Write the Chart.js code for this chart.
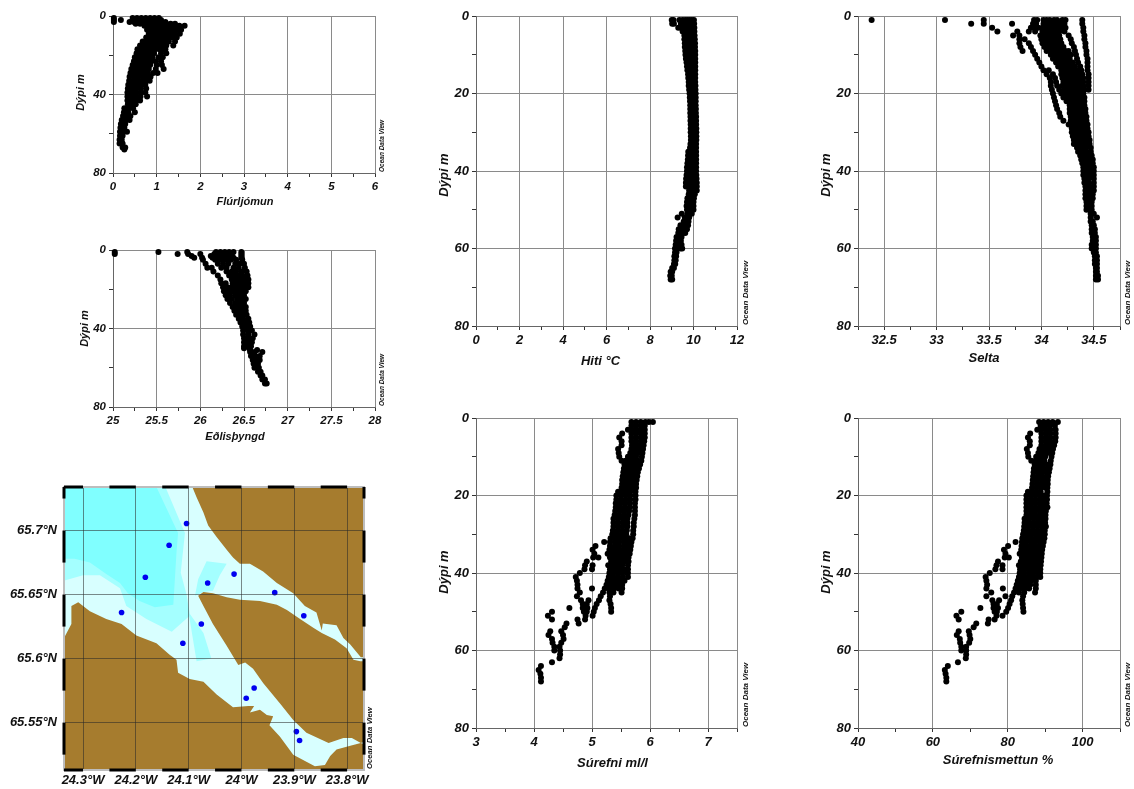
<!DOCTYPE html>
<html>
<head>
<meta charset="utf-8">
<title>Ocean Data View profiles</title>
<script src="https://cdn.jsdelivr.net/npm/chart.js@4"></script>
<style>
  html, body { margin: 0; padding: 0; background: #fff; overflow: hidden; }
  canvas { position: absolute; filter: blur(0.45px); }
</style>
</head>
<body>
<script>
// rows are [depth, value, value, ...]
const flurRows = [
  [1,0.02,0.45,0.55,0.65,0.75,0.85,0.95,1.05],[2,0.02,0.18,0.5,0.6,0.7,0.8,0.9,1.0,1.1],
  [3,0.02,0.38,0.48,0.58,0.7,0.8,0.9,1.0,1.1,1.2],[4,0.52,0.62,0.72,0.82,0.92,1.02,1.12,1.22,1.32,1.42],
  [5,0.72,0.82,0.92,1.02,1.12,1.22,1.32,1.42,1.52,1.64],[7,0.78,0.88,0.98,1.08,1.18,1.28,1.38,1.48,1.56],
  [9,0.82,0.92,1.02,1.12,1.22,1.32,1.42,1.53],[11,0.76,0.86,0.96,1.06,1.16,1.26,1.36,1.46],
  [13,0.68,0.78,0.88,0.98,1.08,1.18,1.28,1.42],[15,0.62,0.72,0.82,0.92,1.02,1.12,1.22,1.38],
  [17,0.56,0.66,0.76,0.86,0.96,1.06,1.16,1.2],[19,0.54,0.64,0.74,0.84,0.94,1.1,1.22],
  [21,0.5,0.6,0.7,0.8,0.9,1.04,1.14],[23,0.48,0.58,0.68,0.78,0.88,0.98,1.1],
  [25,0.45,0.55,0.65,0.75,0.85,1.0,1.12],[27,0.42,0.52,0.62,0.72,0.82,0.98,1.16],
  [29,0.4,0.5,0.6,0.7,0.8,0.92,1.02],[31,0.38,0.48,0.58,0.68,0.78,0.86],
  [33,0.37,0.47,0.57,0.67,0.77,0.84],[35,0.35,0.45,0.55,0.65,0.74],
  [37,0.34,0.44,0.54,0.64,0.76],[39,0.33,0.43,0.53,0.63,0.74],
  [41,0.33,0.43,0.53,0.63,0.78],[43,0.33,0.43,0.53,0.62],[45,0.34,0.44,0.52],
  [47,0.26,0.36,0.46],[49,0.25,0.35,0.5],[51,0.23,0.33,0.4],[53,0.2,0.3,0.38],
  [55,0.18,0.28],[57,0.17,0.26],[59,0.16,0.24,0.32],[61,0.16,0.22],[63,0.15,0.2],
  [65,0.15,0.22],[67,0.22,0.28],[68,0.26]
];
const densityRows = [
  [1,25.02,25.52,25.85,26.18,26.23,26.28,26.33,26.38,26.47],[2,25.02,25.74,25.86,26.0,26.16,26.21,26.26,26.31,26.36,26.47],
  [3,25.9,26.12,26.18,26.24,26.3,26.36,26.47],[4,25.93,26.02,26.14,26.2,26.26,26.32,26.38,26.47],
  [5,26.03,26.17,26.23,26.29,26.35,26.41,26.48],[7,26.06,26.2,26.26,26.32,26.4,26.45,26.5],
  [9,26.08,26.13,26.24,26.3,26.38,26.44,26.51],[11,26.15,26.3,26.36,26.41,26.47,26.53],
  [13,26.2,26.33,26.38,26.43,26.48,26.54],[15,26.23,26.36,26.41,26.46,26.51,26.55],
  [17,26.24,26.29,26.37,26.42,26.47,26.52,26.55],[19,26.26,26.31,26.36,26.41,26.46,26.51,26.55],
  [21,26.27,26.32,26.37,26.42,26.47,26.52],[23,26.29,26.34,26.4,26.45,26.5],
  [25,26.31,26.36,26.42,26.47,26.52],[27,26.34,26.4,26.45,26.5],[29,26.37,26.42,26.47,26.52],
  [31,26.39,26.44,26.49,26.52],[33,26.41,26.46,26.5,26.53],[35,26.44,26.49,26.55],
  [37,26.46,26.51,26.56],[39,26.48,26.52,26.57],[41,26.49,26.54,26.59],[43,26.49,26.55,26.62],
  [45,26.5,26.55,26.6],[47,26.5,26.55,26.59],[49,26.5,26.54,26.58],[50,26.5,26.56],
  [51,26.57,26.65],[52,26.57,26.62,26.71],[54,26.58,26.63,26.68],[56,26.6,26.65,26.68],
  [58,26.61,26.66],[60,26.62,26.67],[62,26.66,26.69],[64,26.69,26.71],[66,26.71,26.74],[68,26.74,26.76]
];
const hitiRows = [
  [1,9.0,9.08,9.35,9.5,9.62,9.72,9.82,9.92,10.02],[2,9.02,9.1,9.42,9.55,9.65,9.75,9.85,9.95,10.03],
  [3,9.3,9.42,9.52,9.62,9.74,9.86,9.96,10.04],[4,9.5,9.6,9.7,9.8,9.92,10.04],
  [5,9.58,9.68,9.78,9.88,9.98,10.05],[6,9.58,9.68,9.8,9.9,10.0,10.06],[7,9.6,9.7,9.8,9.9,10.0,10.07],
  [8,9.6,9.7,9.82,9.92,10.02,10.07],[9,9.62,9.72,9.82,9.92,10.02,10.08],[10,9.63,9.73,9.84,9.94,10.08],
  [11,9.65,9.75,9.85,9.95,10.08],[12,9.68,9.78,9.88,9.98,10.08],[13,9.7,9.8,9.9,10.0,10.08],
  [14,9.72,9.82,9.92,10.0,10.08],[15,9.75,9.85,9.95,10.08],[16,9.76,9.86,9.96,10.08],[17,9.78,9.88,9.98,10.08],
  [18,9.78,9.88,9.98,10.09],[19,9.8,9.9,10.0,10.09],[20,9.82,9.92,10.02,10.1],[21,9.83,9.93,10.03,10.1],
  [22,9.84,9.94,10.04,10.1],[23,9.85,9.95,10.05,10.1],[24,9.85,9.95,10.05,10.11],[25,9.85,9.95,10.05,10.11],
  [26,9.86,9.96,10.06,10.12],[27,9.86,9.96,10.06,10.12],[28,9.87,9.97,10.07,10.12],[29,9.87,9.97,10.07,10.13],
  [30,9.87,9.97,10.07,10.13],[31,9.88,9.98,10.08,10.13],[32,9.88,9.98,10.08,10.13],[33,9.86,9.96,10.06,10.12],
  [34,9.84,9.94,10.04,10.12],[35,9.76,9.86,9.96,10.06,10.12],[36,9.75,9.85,9.95,10.05,10.12],[37,9.74,9.84,9.94,10.04,10.12],
  [38,9.72,9.82,9.92,10.02,10.12],[39,9.7,9.8,9.9,10.0,10.12],[40,9.7,9.8,9.9,10.0,10.12],[41,9.68,9.78,9.88,9.98,10.13],
  [42,9.66,9.76,9.86,9.96,10.06,10.14],[43,9.65,9.75,9.85,9.95,10.05,10.15],[44,9.65,9.75,9.85,9.95,10.05,10.15],
  [45,9.8,9.9,10.0,10.15],[46,9.78,9.88,9.98,10.06],[47,9.72,9.82,9.92,10.02],[48,9.7,9.8,9.9,10.0],
  [49,9.68,9.78,9.88,10.0],[50,9.7,9.8,9.9,10.0],[51,9.46,9.72,9.82,9.92],[52,9.27,9.6,9.72,9.8],
  [53,9.55,9.68,9.77],[54,9.4,9.52,9.65,9.75],[55,9.32,9.45,9.58,9.7],[56,9.3,9.42,9.52,9.62],
  [57,9.22,9.33,9.45],[58,9.2,9.3,9.42],[59,9.18,9.28,9.4,9.45],[60,9.15,9.25,9.4,9.48],
  [61,9.15,9.22],[62,9.12,9.2],[63,9.12,9.18],[64,9.1,9.16],[65,9.02,9.1],[66,8.95,9.02],[67,8.93,9.0],[68,8.95,9.02]
];
const seltaRows = [
  [1,32.38,33.08,33.45,33.93,33.96,34.02,34.05,34.08,34.12,34.15,34.2,34.23,34.39],
  [2,33.33,33.45,33.72,33.92,33.95,34.02,34.05,34.08,34.11,34.14,34.17,34.2,34.22,34.39],
  [3,33.53,33.9,33.93,33.97,34.01,34.04,34.07,34.1,34.14,34.17,34.21,34.23,34.4],
  [4,33.58,33.77,33.88,33.94,34.01,34.04,34.07,34.1,34.14,34.17,34.22,34.4],
  [5,33.73,33.79,33.99,34.02,34.05,34.08,34.11,34.14,34.17,34.26,34.41],
  [6,33.79,33.84,34.0,34.03,34.06,34.09,34.12,34.15,34.18,34.28,34.41],
  [7,33.79,33.88,34.01,34.04,34.07,34.1,34.13,34.16,34.19,34.29,34.42],
  [8,33.8,33.9,34.03,34.06,34.09,34.12,34.15,34.18,34.21,34.31,34.42],
  [9,33.82,33.92,34.05,34.08,34.11,34.14,34.17,34.2,34.23,34.26,34.32,34.43],
  [10,33.94,34.09,34.13,34.17,34.21,34.25,34.28,34.33,34.43],[11,33.96,34.11,34.15,34.19,34.23,34.27,34.34,34.44],
  [12,33.98,34.14,34.18,34.22,34.26,34.3,34.35,34.44],[13,34.0,34.16,34.2,34.24,34.28,34.32,34.37,34.44],
  [14,34.02,34.07,34.19,34.23,34.27,34.31,34.35,34.38,34.44],[15,34.05,34.11,34.19,34.23,34.27,34.31,34.35,34.39,34.45],
  [16,34.08,34.13,34.2,34.24,34.28,34.32,34.36,34.4,34.45],[17,34.09,34.14,34.21,34.25,34.29,34.33,34.37,34.4,34.45],
  [18,34.09,34.15,34.2,34.24,34.28,34.32,34.36,34.4,34.45],[19,34.1,34.17,34.22,34.26,34.3,34.34,34.38,34.41,34.45],
  [20,34.11,34.19,34.24,34.28,34.32,34.36,34.4],[21,34.12,34.21,34.25,34.29,34.33,34.37,34.41],
  [22,34.13,34.24,34.27,34.3,34.34,34.38,34.41],[23,34.14,34.27,34.31,34.35,34.38,34.41],
  [24,34.15,34.27,34.31,34.35,34.39,34.42],[25,34.17,34.27,34.31,34.35,34.39,34.42],
  [26,34.18,34.28,34.32,34.36,34.4,34.43],[27,34.21,34.28,34.32,34.36,34.4,34.43],
  [28,34.26,34.3,34.33,34.37,34.41,34.44],[29,34.29,34.33,34.37,34.41,34.44],
  [30,34.29,34.33,34.37,34.41,34.45],[31,34.3,34.34,34.38,34.42,34.45],[32,34.31,34.35,34.39,34.43,34.46],
  [33,34.31,34.35,34.39,34.43,34.46],[34,34.34,34.38,34.42,34.47],[35,34.35,34.39,34.43,34.47],
  [36,34.37,34.41,34.45,34.48],[37,34.38,34.42,34.46,34.49],[38,34.39,34.43,34.47,34.49],
  [39,34.4,34.44,34.48,34.5],[40,34.4,34.44,34.48,34.5],[41,34.4,34.44,34.48,34.5],[42,34.41,34.45,34.5],
  [43,34.41,34.45,34.5],[44,34.42,34.46,34.5],[45,34.42,34.46,34.5],[46,34.42,34.46,34.49],
  [47,34.42,34.46,34.49],[48,34.43,34.46,34.48],[49,34.43,34.46,34.48],[50,34.43,34.46,34.48],
  [51,34.47,34.5],[52,34.47,34.53],[53,34.47,34.49],[54,34.48,34.5],[55,34.48,34.51],[56,34.48,34.51],
  [57,34.49,34.52],[58,34.49,34.52],[59,34.48,34.52],[60,34.48,34.52],[61,34.5,34.52],[62,34.51,34.53],
  [63,34.51,34.53],[64,34.51,34.53],[65,34.52,34.53],[66,34.52,34.53],[67,34.52,34.54],[68,34.52,34.54]
];
const surefniRows = [
  [1,5.68,5.76,5.84,5.92,5.98,6.05],[2,5.68,5.76,5.84,5.91],[3,5.62,5.69,5.77,5.85,5.91],[4,5.52,5.68,5.76,5.84,5.91],
  [5,5.47,5.68,5.76,5.84,5.91],[6,5.51,5.68,5.76,5.84,5.9],[7,5.51,5.69,5.76,5.83,5.89],[8,5.45,5.68,5.75,5.82,5.88],
  [9,5.46,5.66,5.73,5.8,5.87],[10,5.47,5.62,5.69,5.76,5.86],[11,5.51,5.58,5.65,5.72,5.79,5.85],[12,5.56,5.63,5.7,5.77,5.83],
  [13,5.55,5.62,5.69,5.76,5.81],[14,5.54,5.61,5.68,5.75,5.79],[15,5.53,5.6,5.67,5.73,5.78],[16,5.52,5.59,5.66,5.72,5.77],
  [17,5.52,5.59,5.66,5.72,5.76],[18,5.51,5.58,5.65,5.71,5.76],[19,5.45,5.52,5.59,5.66,5.75],[20,5.42,5.5,5.58,5.66,5.75],
  [21,5.42,5.5,5.58,5.66,5.75],[22,5.41,5.49,5.57,5.65,5.74],[23,5.41,5.49,5.57,5.65,5.74],[24,5.4,5.48,5.56,5.64,5.74],
  [25,5.39,5.47,5.55,5.63,5.74],[26,5.37,5.45,5.53,5.61,5.73],[27,5.37,5.45,5.53,5.61,5.72],[28,5.37,5.45,5.53,5.61,5.72],
  [29,5.36,5.44,5.52,5.6,5.71],[30,5.35,5.43,5.51,5.59,5.71],[31,5.32,5.4,5.48,5.56,5.64,5.7],[32,5.21,5.31,5.39,5.47,5.55,5.63,5.68],
  [33,5.06,5.31,5.39,5.47,5.55,5.62,5.67],[34,5.01,5.3,5.38,5.46,5.54,5.62,5.66],[35,5.04,5.27,5.33,5.41,5.49,5.57,5.65],
  [36,5.02,5.11,5.31,5.39,5.47,5.55,5.63],[37,4.91,5.33,5.41,5.49,5.57,5.63],[38,4.88,5.01,5.28,5.36,5.44,5.52,5.62],
  [39,4.87,5.0,5.31,5.39,5.47,5.55,5.62],[40,4.79,5.3,5.36,5.44,5.52,5.6,5.62],[41,4.72,5.29,5.37,5.45,5.53,5.62],
  [42,4.74,5.27,5.33,5.41,5.49,5.56],[43,4.75,5.25,5.31,5.39,5.47,5.52],[44,4.75,5.0,5.22,5.3,5.38,5.46,5.52],
  [45,4.79,5.19,5.3,5.37,5.51],[46,4.74,5.15,5.31],[47,4.81,4.94,5.12,5.3],[48,4.84,4.91,5.08,5.32],
  [49,4.61,4.84,4.92,5.05,5.33],[50,4.31,4.86,4.91,5.03,5.33],[51,4.24,4.89,5.01],[52,4.31,4.75,4.88],
  [53,4.56,4.77],[54,4.53],[55,4.28,4.47],[56,4.25,4.5],[57,4.31,4.51],[58,4.32,4.47],[59,4.35,4.44],
  [60,4.35,4.45],[61,4.45],[62,4.44],[63,4.31],[64,4.12],[65,4.08],[66,4.11],[67,4.12],[68,4.12]
];
const mettunRows = [
  [1,88.4,89.6,90.8,92.0,93.4],[2,88.8,90.0,91.2,92.6],[3,87.9,89.0,90.2,91.4,92.8],[4,86.0,89.0,90.2,91.4,92.8],
  [5,85.4,89.0,90.2,91.4,92.8],[6,85.9,89.0,90.2,91.4,92.7],[7,85.9,89.0,90.2,91.4,92.4],[8,85.1,88.5,89.7,90.9,92.1],
  [9,85.4,88.2,89.4,90.6,91.9],[10,85.5,87.6,88.8,90.0,91.7],[11,86.3,87.4,88.6,89.8,91.5],[12,87.2,88.4,89.6,90.8,91.4],
  [13,87.0,88.2,89.4,90.6,91.2],[14,86.9,88.1,89.3,90.5,91.0],[15,86.8,88.0,89.2,90.4,90.8],[16,86.7,87.9,89.1,90.3,90.7],
  [17,86.6,87.8,89.0,90.2,90.7],[18,86.5,87.7,88.9,90.1,90.6],[19,85.4,86.4,87.6,88.8,90.6],[20,85.0,86.2,87.4,88.6,89.8,90.5],
  [21,85.0,86.2,87.4,88.6,89.8,90.5],[22,85.0,86.2,87.4,88.6,89.8,90.4],[23,85.0,86.2,87.4,88.6,89.8,90.6],[24,85.0,86.2,87.4,88.6,89.8,90.2],
  [25,85.0,86.2,87.4,88.6,89.8,90.1],[26,84.5,85.7,86.9,88.1,89.3,90.1],[27,84.5,85.7,86.9,88.1,89.3,90.0],[28,84.4,85.6,86.8,88.0,89.2,90.2],
  [29,84.3,85.5,86.7,87.9,89.1,89.9],[30,84.1,85.3,86.5,87.7,88.9,89.9],[31,83.9,85.1,86.3,87.5,88.7,89.8],[32,82.1,83.8,85.0,86.2,87.4,88.6,89.6],
  [33,80.1,83.7,84.9,86.1,87.3,88.5,89.4],[34,79.0,83.6,84.8,86.0,87.2,88.4,89.2],[35,79.4,83.2,84.4,85.6,86.8,88.0,89.1],
  [36,79.2,80.3,83.8,85.0,86.2,87.4,88.6,89.0],[37,77.4,83.5,84.7,85.9,87.1,88.3,88.9],[38,77.0,78.6,83.0,84.2,85.4,86.6,87.8,88.8],
  [39,76.7,78.6,83.3,84.5,85.7,86.9,88.1,88.7],[40,75.2,83.2,84.4,85.6,86.8,88.0,88.7],[41,74.1,83.0,84.2,85.4,86.6,87.8,88.7],
  [42,74.3,82.7,83.9,85.1,86.3,87.5],[43,74.5,82.4,83.6,84.8,86.0,87.5],[44,74.3,78.7,82.1,83.3,84.5,85.7,87.5],
  [45,75.6,81.7,83.0,84.4,87.3],[46,74.3,79.4,81.2,84.1],[47,75.9,77.7,80.9,83.9],[48,76.2,77.1,80.5,84.0],
  [49,72.7,76.2,77.4,80.1,84.1],[50,67.6,76.5,77.1,79.6,84.2],[51,66.3,77.0,78.6],[52,66.9,74.9,76.5],
  [53,71.6,74.7],[54,70.9],[55,66.9,69.6],[56,66.4,69.8],[57,67.2,70.0],[58,67.3,69.7],[59,67.6,68.9],
  [60,67.6,68.9],[61,68.9],[62,68.8],[63,66.7],[64,64.0],[65,63.2],[66,63.4],[67,63.6],[68,63.6]
];

// map outlines as [lon, lat]
const seaBox = [[-24.336,65.513],[-24.336,65.734],[-23.768,65.734],[-23.768,65.513]];
const deepWater = [[-24.335,65.734],[-24.161,65.734],[-24.120,65.698],[-24.123,65.683],[-24.129,65.642],[-24.164,65.640],[-24.193,65.645],[-24.215,65.651],[-24.230,65.659],[-24.256,65.666],[-24.287,65.675],[-24.316,65.678],[-24.335,65.678]];
const midWater = [[-24.335,65.734],[-24.144,65.734],[-24.107,65.698],[-24.115,65.667],[-24.104,65.650],[-24.098,65.635],[-24.072,65.620],[-24.057,65.600],[-24.085,65.598],[-24.099,65.633],[-24.132,65.621],[-24.180,65.631],[-24.218,65.641],[-24.230,65.655],[-24.268,65.665],[-24.300,65.665],[-24.335,65.661]];
const midPatch = [[-24.088,65.649],[-24.082,65.662],[-24.066,65.676],[-24.028,65.674],[-24.041,65.665],[-24.054,65.653],[-24.072,65.652]];
const landNorth = [[-24.093,65.734],[-24.085,65.726],[-24.072,65.714],[-24.063,65.704],[-24.047,65.695],[-24.028,65.685],[-24.016,65.679],[-24.003,65.674],[-23.984,65.674],[-23.959,65.668],[-23.933,65.659],[-23.902,65.651],[-23.880,65.641],[-23.858,65.636],[-23.853,65.629],[-23.848,65.622],[-23.846,65.6275],[-23.820,65.626],[-23.807,65.616],[-23.794,65.611],[-23.774,65.601],[-23.768,65.601],[-23.768,65.734]];
const landMiddle = [[-24.082,65.649],[-24.072,65.652],[-24.054,65.651],[-24.028,65.648],[-24.003,65.646],[-23.965,65.645],[-23.933,65.642],[-23.914,65.638],[-23.889,65.631],[-23.864,65.624],[-23.848,65.620],[-23.823,65.615],[-23.801,65.608],[-23.788,65.599],[-23.775,65.598],[-23.768,65.598],[-23.768,65.535],[-23.774,65.534],[-23.791,65.538],[-23.807,65.538],[-23.835,65.534],[-23.877,65.542],[-23.902,65.552],[-23.927,65.565],[-23.959,65.581],[-23.978,65.592],[-23.993,65.597],[-24.006,65.595],[-24.028,65.610],[-24.054,65.627],[-24.072,65.641]];
const landSouth = [[-24.336,65.513],[-24.336,65.616],[-24.322,65.627],[-24.322,65.641],[-24.309,65.644],[-24.287,65.637],[-24.256,65.631],[-24.227,65.627],[-24.199,65.618],[-24.161,65.612],[-24.136,65.603],[-24.123,65.599],[-24.120,65.589],[-24.098,65.584],[-24.072,65.582],[-24.047,65.572],[-24.016,65.562],[-23.987,65.563],[-23.976,65.563],[-23.984,65.558],[-23.965,65.560],[-23.952,65.556],[-23.940,65.555],[-23.947,65.548],[-23.927,65.539],[-23.902,65.525],[-23.861,65.516],[-23.842,65.517],[-23.832,65.524],[-23.820,65.529],[-23.794,65.532],[-23.774,65.534],[-23.768,65.533],[-23.768,65.513]];
const stations = [[-24.104,65.7055],[-24.137,65.6885],[-24.182,65.6635],[-24.227,65.636],[-24.111,65.612],[-24.076,65.627],[-24.064,65.659],[-24.014,65.666],[-23.937,65.6515],[-23.882,65.6335],[-23.976,65.577],[-23.991,65.569],[-23.896,65.543],[-23.890,65.536]];

const lonTicks = [-24.3,-24.2,-24.1,-24,-23.9,-23.8];
const latTicks = [65.55,65.6,65.65,65.7];
const lonBars = [[-24.336,-24.3],[-24.25,-24.2],[-24.15,-24.1],[-24.05,-24],[-23.95,-23.9],[-23.85,-23.8]];
const latBars = [[65.734,65.725],[65.7,65.675],[65.65,65.625],[65.6,65.575],[65.55,65.525]];

const depthSmall = { ticks: [0,20,40,60,80], major: [0,40,80] };
const depthBig = { ticks: [0,10,20,30,40,50,60,70,80], major: [0,20,40,60,80] };

const FONT = '"Liberation Sans", Arial, sans-serif';

function cloud(rows) {
  return rows.flatMap(r => r.slice(1).map(x => ({ x, y: r[0] })));
}
function pairs(list) {
  return list.map(p => ({ x: p[0], y: p[1] }));
}

function addCanvas(left, top, w, h) {
  const c = document.createElement('canvas');
  c.width = w; c.height = h;
  c.style.left = left + 'px';
  c.style.top = top + 'px';
  document.body.appendChild(c);
  return c.getContext('2d');
}

// small text up the right hand side of every panel
function odvLabel(size, gap) {
  return {
    id: 'odv',
    afterDraw(chart) {
      const { ctx, chartArea } = chart;
      ctx.save();
      ctx.translate(chartArea.right + gap, chartArea.bottom - 1);
      ctx.rotate(-Math.PI / 2);
      ctx.font = 'italic bold ' + size + 'px ' + FONT;
      ctx.fillStyle = '#111';
      ctx.textAlign = 'left';
      ctx.textBaseline = 'middle';
      ctx.fillText('Ocean Data View', 0, 0);
      ctx.restore();
    }
  };
}

// axis titles sit a little off centre in the original, so they are placed here
function axisTitles(cfg) {
  return {
    id: 'axisTitles',
    afterDraw(chart) {
      const { ctx, chartArea: a } = chart;
      ctx.save();
      ctx.font = 'italic bold ' + cfg.titleFont + 'px ' + FONT;
      ctx.fillStyle = '#111';
      ctx.textAlign = 'center';
      ctx.textBaseline = 'middle';
      ctx.fillText(cfg.xTitle, (a.left + a.right) / 2 + cfg.xShift, a.bottom + cfg.xGap);
      ctx.translate(a.left - cfg.yGap, (a.top + a.bottom) / 2 + cfg.yShift);
      ctx.rotate(-Math.PI / 2);
      ctx.fillText('Dýpi m', 0, 0);
      ctx.restore();
    }
  };
}

function fixedAxis(ticks, major, labels, size, extra) {
  return Object.assign({
    afterBuildTicks(s) { s.ticks = ticks.map(value => ({ value })); },
    ticks: {
      autoSkip: false, maxRotation: 0, padding: 3, color: '#111',
      font: { family: FONT, size, style: 'italic', weight: 'bold' },
      callback: v => labels.includes(v) ? String(v) : ''
    },
    grid: {
      tickLength: 4, tickColor: '#333',
      color: c => major.includes(c.tick.value) ? '#8a8a8a' : 'rgba(0,0,0,0)',
      lineWidth: 1
    },
    border: { display: true, color: '#666', width: 1 }
  }, extra);
}

function profile(cfg) {
  const W = cfg.yGap + 12, H = cfg.xGap + 12, R = 16, T = 10;
  const ctx = addCanvas(cfg.left - W, cfg.top - T, W + cfg.width + R, T + cfg.height + H);
  new Chart(ctx, {
    type: 'scatter',
    data: { datasets: [{ data: cloud(cfg.rows), backgroundColor: '#000', borderWidth: 0, pointRadius: 3, clip: false }] },
    options: {
      responsive: false, animation: false,
      layout: { padding: { top: T, right: R } },
      plugins: { legend: { display: false }, tooltip: { enabled: false } },
      scales: {
        x: fixedAxis(cfg.xTicks, cfg.xMajor, cfg.xLabels, cfg.font, {
          type: 'linear', min: cfg.xMin, max: cfg.xMax,
          afterFit(s) { s.height = H; s.paddingLeft = 0; s.paddingRight = 0; }
        }),
        y: fixedAxis(cfg.depth.ticks, cfg.depth.major, cfg.depth.major, cfg.font, {
          type: 'linear', reverse: true, min: 0, max: 80,
          afterFit(s) { s.width = W; s.paddingTop = 0; s.paddingBottom = 0; }
        })
      }
    },
    plugins: [odvLabel(cfg.odv, cfg.odvGap), axisTitles(cfg)]
  });
}

profile({ left: 113, top: 16, width: 262, height: 157, rows: flurRows, depth: depthSmall, font: 11.5, titleFont: 11, yGap: 32, xGap: 29, xShift: 1, yShift: -2, odv: 6.5, odvGap: 7,
  xMin: 0, xMax: 6, xTicks: [0,0.5,1,1.5,2,2.5,3,3.5,4,4.5,5,5.5,6], xMajor: [0,1,2,3,4,5,6], xLabels: [0,1,2,3,4,5,6], xTitle: 'Flúrljómun' });
profile({ left: 113, top: 250, width: 262, height: 157, rows: densityRows, depth: depthSmall, font: 11.5, titleFont: 11, yGap: 28, xGap: 30, xShift: -9, yShift: 0, odv: 6.5, odvGap: 7,
  xMin: 25, xMax: 28, xTicks: [25,25.25,25.5,25.75,26,26.25,26.5,26.75,27,27.25,27.5,27.75,28], xMajor: [25,25.5,26,26.5,27,27.5,28], xLabels: [25,25.5,26,26.5,27,27.5,28], xTitle: 'Eðlisþyngd' });
profile({ left: 476, top: 16, width: 261, height: 310, rows: hitiRows, depth: depthBig, font: 13, titleFont: 13, yGap: 32, xGap: 35, xShift: -6, yShift: 4, odv: 8, odvGap: 9,
  xMin: 0, xMax: 12, xTicks: [0,1,2,3,4,5,6,7,8,9,10,11,12], xMajor: [0,2,4,6,8,10,12], xLabels: [0,2,4,6,8,10,12], xTitle: 'Hiti °C' });
profile({ left: 858, top: 16, width: 262, height: 310, rows: seltaRows, depth: depthBig, font: 13, titleFont: 13, yGap: 32, xGap: 32, xShift: -5, yShift: 4, odv: 8, odvGap: 8,
  xMin: 32.25, xMax: 34.75, xTicks: [32.25,32.5,32.75,33,33.25,33.5,33.75,34,34.25,34.5,34.75], xMajor: [32.25,32.5,33,33.5,34,34.5,34.75], xLabels: [32.5,33,33.5,34,34.5], xTitle: 'Selta' });
profile({ left: 476, top: 418, width: 261, height: 310, rows: surefniRows, depth: depthBig, font: 13, titleFont: 13, yGap: 32, xGap: 35, xShift: 6, yShift: -1, odv: 8, odvGap: 9,
  xMin: 3, xMax: 7.5, xTicks: [3,3.5,4,4.5,5,5.5,6,6.5,7,7.5], xMajor: [3,4,5,6,7,7.5], xLabels: [3,4,5,6,7], xTitle: 'Súrefni ml/l' });
profile({ left: 858, top: 418, width: 262, height: 310, rows: mettunRows, depth: depthBig, font: 13, titleFont: 13, yGap: 32, xGap: 32, xShift: 9, yShift: -1, odv: 8, odvGap: 8,
  xMin: 40, xMax: 110, xTicks: [40,50,60,70,80,90,100,110], xMajor: [40,60,80,100,110], xLabels: [40,60,80,100], xTitle: 'Súrefnismettun %' });

// black and gray frame around the map
const mapFrame = {
  id: 'mapFrame',
  afterDraw(chart) {
    const { ctx, chartArea: a, scales } = chart;
    ctx.save();
    ctx.strokeStyle = '#bdbdbd';
    ctx.lineWidth = 2;
    ctx.strokeRect(a.left, a.top, a.right - a.left, a.bottom - a.top);
    ctx.fillStyle = '#000';
    lonBars.forEach(b => {
      const x0 = scales.x.getPixelForValue(b[0]), x1 = scales.x.getPixelForValue(b[1]);
      ctx.fillRect(x0, a.top - 1.5, x1 - x0, 3);
      ctx.fillRect(x0, a.bottom - 1.5, x1 - x0, 3);
    });
    latBars.forEach(b => {
      const y0 = scales.y.getPixelForValue(b[0]), y1 = scales.y.getPixelForValue(b[1]);
      ctx.fillRect(a.left - 1.5, y0, 3, y1 - y0);
      ctx.fillRect(a.right - 1.5, y0, 3, y1 - y0);
    });
    ctx.restore();
  }
};

function area(list, color) {
  return { type: 'scatter', data: pairs(list), showLine: true, fill: 'shape', backgroundColor: color, borderWidth: 0, borderColor: color, pointRadius: 0, tension: 0 };
}

const mapCtx = addCanvas(0, 477, 384, 312);
new Chart(mapCtx, {
  type: 'scatter',
  data: {
    datasets: [
      { data: pairs(stations), backgroundColor: '#0000f0', borderWidth: 0, pointRadius: 2.8 },
      area(landNorth, '#a67c2e'),
      area(landMiddle, '#a67c2e'),
      area(landSouth, '#a67c2e'),
      area(midPatch, '#a4ffff'),
      area(deepWater, '#80ffff'),
      area(midWater, '#a4ffff'),
      area(seaBox, '#d8ffff')
    ]
  },
  options: {
    responsive: false, animation: false,
    layout: { padding: { top: 10, right: 20 } },
    plugins: { legend: { display: false }, tooltip: { enabled: false } },
    scales: {
      x: {
        type: 'linear', min: -24.336, max: -23.768,
        afterBuildTicks(s) { s.ticks = lonTicks.map(value => ({ value })); },
        afterFit(s) { s.height = 19; s.paddingLeft = 0; s.paddingRight = 0; },
        ticks: { autoSkip: false, maxRotation: 0, padding: 3, color: '#111',
          font: { family: FONT, size: 13, style: 'italic', weight: 'bold' },
          callback: v => Math.abs(v) + '°W' },
        grid: { z: 1, drawTicks: false, color: 'rgba(40,40,40,0.55)', lineWidth: 1 },
        border: { display: false }
      },
      y: {
        type: 'linear', min: 65.513, max: 65.734,
        afterBuildTicks(s) { s.ticks = latTicks.map(value => ({ value })); },
        afterFit(s) { s.width = 64; s.paddingTop = 0; s.paddingBottom = 0; },
        ticks: { autoSkip: false, padding: 7, color: '#111',
          font: { family: FONT, size: 13, style: 'italic', weight: 'bold' },
          callback: v => v + '°N' },
        grid: { z: 1, drawTicks: false, color: 'rgba(40,40,40,0.55)', lineWidth: 1 },
        border: { display: false }
      }
    }
  },
  plugins: [mapFrame, odvLabel(7.7, 6)]
});
</script>
</body>
</html>
